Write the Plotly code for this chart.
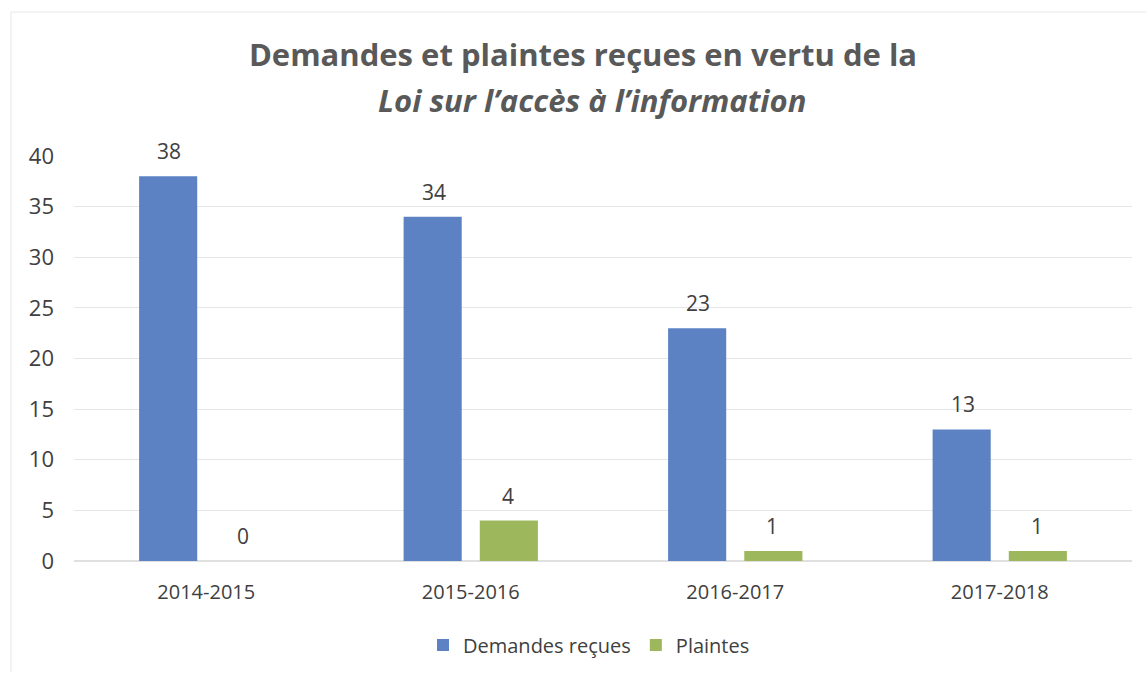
import plotly.graph_objects as go

categories = ["2014-2015", "2015-2016", "2016-2017", "2017-2018"]
demandes = [38, 34, 23, 13]
plaintes = [0, 4, 1, 1]
series_names = ["Demandes reçues", "Plaintes"]
y_ticks = [0, 5, 10, 15, 20, 25, 30, 35, 40]

BLUE = "#5D82C4"
GREEN = "#9DB75C"
TXT = "#404040"
FONT = "'Open Sans', sans-serif"

fig = go.Figure()
fig.add_trace(go.Bar(name=series_names[0], x=categories, y=demandes,
                     marker=dict(color=BLUE, line=dict(width=0))))
fig.add_trace(go.Bar(name=series_names[1], x=categories, y=plaintes,
                     marker=dict(color=GREEN, line=dict(width=0))))

for vals, shift in ((demandes, -37), (plaintes, 37)):
    for c, v in zip(categories, vals):
        fig.add_annotation(x=c, y=v, xref="x", yref="y", text=str(v),
                           showarrow=False, xshift=shift, yshift=25,
                           font=dict(family=FONT, size=21, color=TXT))

W, H = 1146, 677
PH = 405.0
PW = 1058.0
# second title line
fig.add_annotation(xref="paper", yref="paper", x=(590 - 72) / PW, y=(561 - 100) / PH,
                   text="<b><i>Loi sur l’accès à l’information</i></b>",
                   showarrow=False, xanchor="center", yanchor="middle",
                   font=dict(family=FONT, size=31, color="#595959"))

# faint outer border (top & left)
fig.add_shape(type="line", xref="paper", yref="paper",
              x0=-63 / PW, x1=1.0 + 16 / PW, y0=1 + (156 - 12) / PH, y1=1 + (156 - 12) / PH,
              line=dict(color="#EFEFEF", width=1.5))
fig.add_shape(type="line", xref="paper", yref="paper",
              x0=-63 / PW, x1=-63 / PW, y0=1 + (156 - 12) / PH, y1=-(677 - 561 - 5) / PH,
              line=dict(color="#EFEFEF", width=1.5))

fig.update_layout(
    width=W, height=H,
    paper_bgcolor="white", plot_bgcolor="white",
    margin=dict(l=74, r=14, t=156, b=116),
    barmode="group", bargap=0.424, bargroupgap=0.237,
    title=dict(
        text="<b>Demandes et plaintes reçues en vertu de la</b>",
        x=583 / W, xanchor="center", y=1 - 55 / H, yanchor="middle",
        font=dict(family=FONT, size=31, color="#595959"),
    ),
    font=dict(family=FONT, size=18, color=TXT),
    showlegend=True,
    legend=dict(orientation="h", x=(589 - 74) / PW, xanchor="center", y=-(645 - 561) / PH,
                yanchor="middle", font=dict(family=FONT, size=20, color=TXT), itemwidth=30,
                traceorder="normal"),
    xaxis=dict(showgrid=False, showline=False, ticks="", ticklabelstandoff=17,
               tickfont=dict(family=FONT, size=20, color=TXT)),
    yaxis=dict(range=[0, 40], tickvals=y_ticks, showgrid=True, gridcolor="#E6E6E6",
               gridwidth=1, zeroline=True, zerolinecolor="#E0E0E0", showline=False,
               ticks="", ticklabelstandoff=19,
               tickfont=dict(family=FONT, size=22, color=TXT)),
)

fig.write_html("out.html", post_script="document.body.style.margin='0';",
               config={"displayModeBar": False})
